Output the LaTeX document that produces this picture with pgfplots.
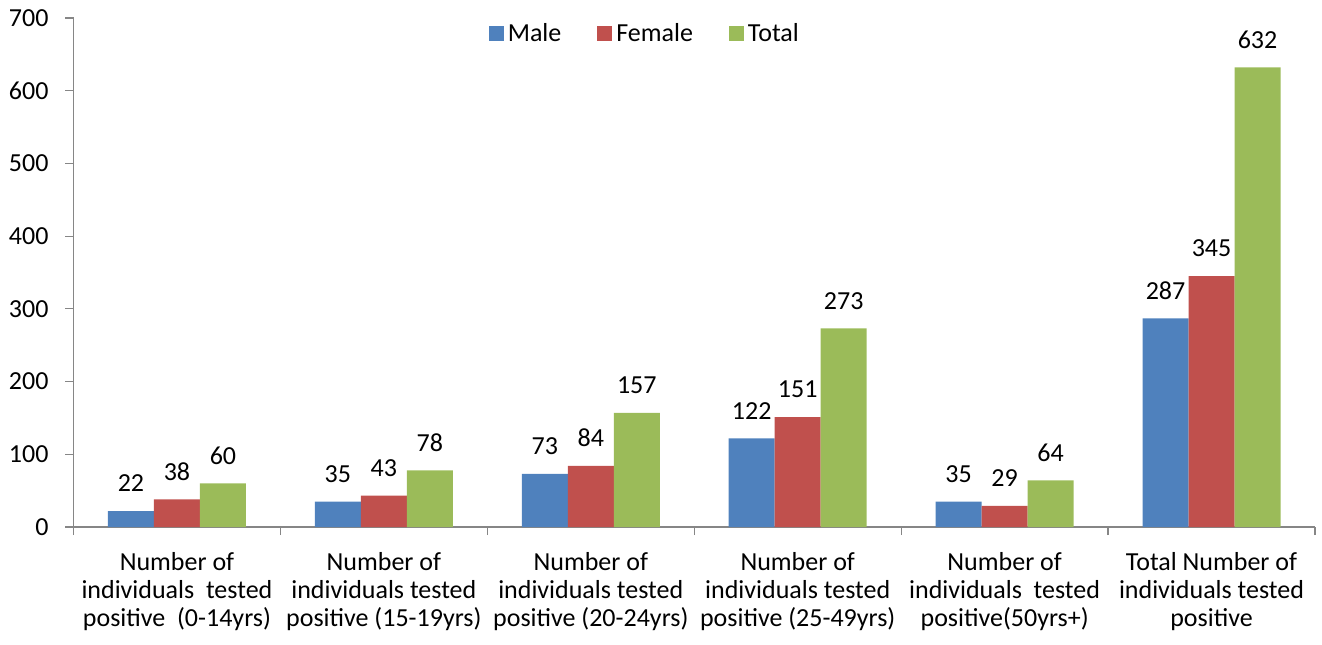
\documentclass[border=0pt]{standalone}
\usepackage{fontspec}
\setmainfont{Carlito}
\usepackage{pgfplots}
\pgfplotsset{compat=1.18}
\definecolor{cmale}{HTML}{4F81BD}
\definecolor{cfemale}{HTML}{C0504D}
\definecolor{ctotal}{HTML}{9BBB59}
\definecolor{axgray}{HTML}{868686}
\pgfplotsset{/pgf/number format/assume math mode=true}
\begin{document}
\begin{tikzpicture}[font=\fontsize{13pt}{14.2pt}\selectfont]
\begin{axis}[
  name=ax,
  scale only axis,
  width=620.75pt, height=254.5pt,
  ybar=0pt, bar width=23pt,
  xmin=-0.5, xmax=5.5,
  ymin=0, ymax=700,
  ytick={0,100,...,700},
  xtick={-0.5,0.5,1.5,2.5,3.5,4.5,5.5},
  x tick label as interval=true,
  xticklabels={
    {Number of\\individuals\ \ tested\\positive\ \ (0-14yrs)},
    {Number of\\individuals tested\\positive (15-19yrs)},
    {Number of\\individuals tested\\positive (20-24yrs)},
    {Number of\\individuals tested\\positive (25-49yrs)},
    {Number of\\individuals\ \ tested\\positive(50yrs+)},
    {Total Number of\\individuals tested\\positive}},
  xticklabel style={align=center, yshift=-5pt},
  yticklabel style={xshift=-5pt},
  axis lines*=left,
  axis line style={axgray, line width=0.6pt},
  tick style={axgray, line width=0.6pt},
  tick align=outside,
  major tick length=4pt,
  nodes near coords,
  every node near coord/.append style={yshift=6pt, text=black},
  legend style={at={(0.461,1.006)}, anchor=north, draw=none, fill=none,
    legend columns=3,
    /tikz/every even column/.append style={column sep=16pt}},
  legend image code/.code={\fill[#1] (0pt,-3.75pt) rectangle (7.5pt,3.75pt);},
]
\addplot[fill=cmale, draw=none] coordinates {(0,22) (1,35) (2,73) (3,122) (4,35) (5,287)};
\addplot[fill=cfemale, draw=none] coordinates {(0,38) (1,43) (2,84) (3,151) (4,29) (5,345)};
\addplot[fill=ctotal, draw=none] coordinates {(0,60) (1,78) (2,157) (3,273) (4,64) (5,632)};
\legend{Male,Female,Total}
\end{axis}
\pgfresetboundingbox
\path (ax.south west)+(-36.75pt,-58.5pt) coordinate (bl);
\path (ax.north east)+(3.5pt,9pt) coordinate (tr);
\path[use as bounding box] (bl) rectangle (tr);
\end{tikzpicture}
\end{document}
